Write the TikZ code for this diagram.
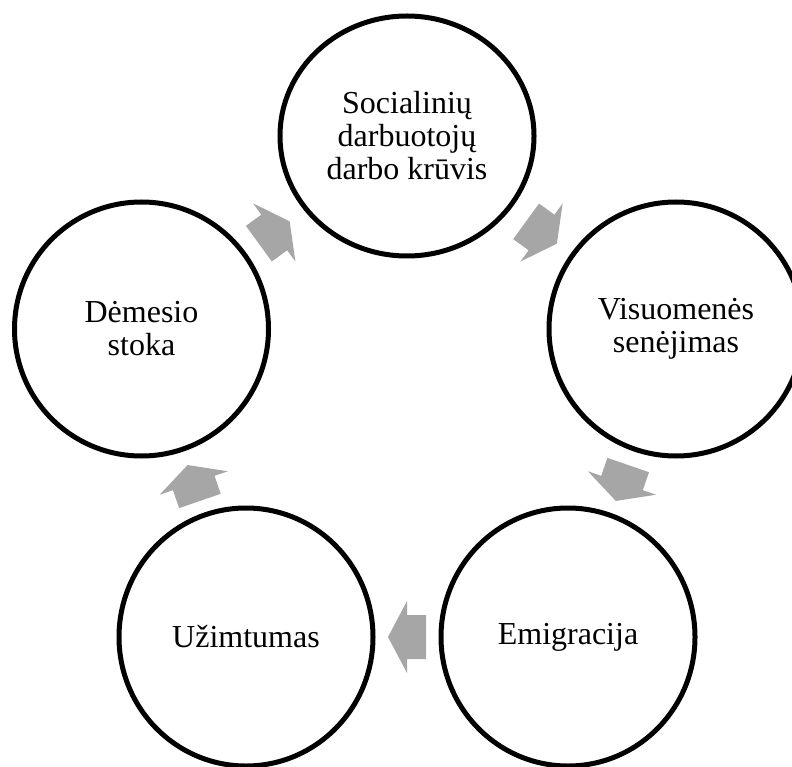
\documentclass[tikz,border=0pt]{standalone}
\usepackage{fontspec}
\setmainfont{Liberation Serif}
\usetikzlibrary{calc,shapes.geometric}
\definecolor{arrowgray}{HTML}{A6A6A6}
\tikzset{
  stage/.style={ellipse, draw=black, line width=5pt,
    minimum width=254pt, minimum height=#1,
    inner sep=0pt, align=center, font=\fontsize{32}{33}\selectfont},
  stage/.default=254pt,
  flowarrow/.pic={
    \fill[arrowgray] (-19,-22) -- (0,-22) -- (0,-36) -- (19,0)
      -- (0,36) -- (0,22) -- (-19,22) -- cycle;
  }
}
\begin{document}
\begin{tikzpicture}[x=1pt,y=-1pt]
\useasboundingbox (0,0) rectangle (792,767);
\clip (0,0) rectangle (792,767);

% the five stages of the cycle
\node[stage=240pt] (soc) at (407,136)   {Socialinių\\darbuotojų\\darbo krūvis};
\node[stage=254pt] (vis) at (676,329)   {Visuomenės\\senėjimas};
\node[stage=258pt] (emi) at (568,637)   {Emigracija};
\node[stage=258pt] (uzi) at (246,637)   {Užimtumas};
\node[stage=254pt] (dem) at (141.5,329) {Dėmesio\\stoka};

% block arrows half way between consecutive stages
\pic[rotate=36]   at ($(dem)!0.5!(soc)$) {flowarrow};
\pic[rotate=-36]  at ($(soc)!0.5!(vis)$) {flowarrow};
\pic[rotate=-109] at ($(vis)!0.5!(emi)$) {flowarrow};
\pic[rotate=180]  at ($(emi)!0.5!(uzi)$) {flowarrow};
\pic[rotate=109]  at ($(uzi)!0.5!(dem)$) {flowarrow};
\end{tikzpicture}
\end{document}
